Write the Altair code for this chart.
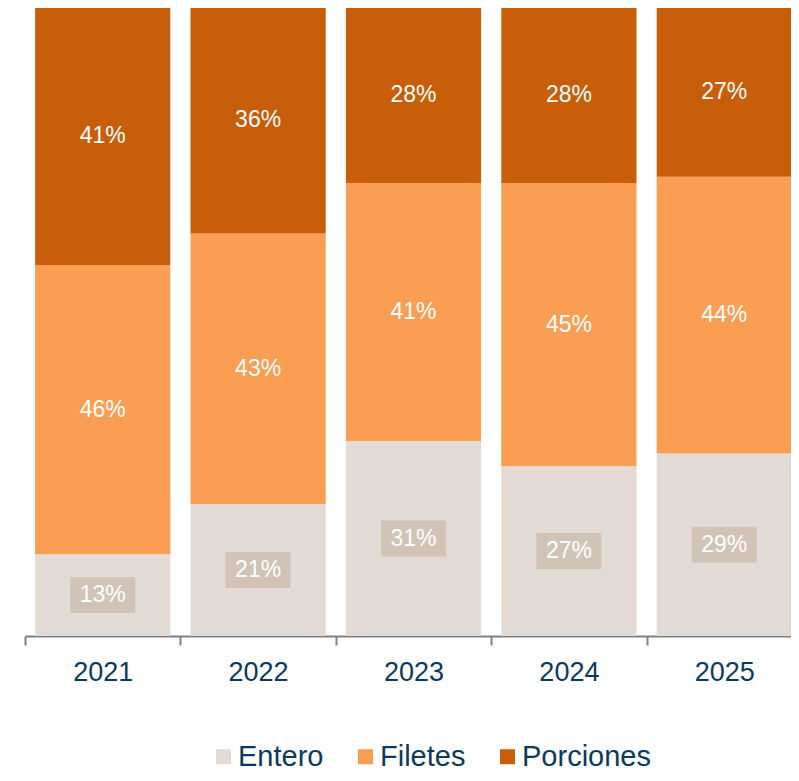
import altair as alt
import pandas as pd

years = ["2021", "2022", "2023", "2024", "2025"]
categories = ["Entero", "Filetes", "Porciones"]
entero = [13, 21, 31, 27, 29]
filetes = [46, 43, 41, 45, 44]
porciones = [41, 36, 28, 28, 27]
colors = ["#e2dad4", "#f99e52", "#c85e0a"]

rows = []
for i, yr in enumerate(years):
    base = 0
    for order, (cat, vals) in enumerate(zip(categories, [entero, filetes, porciones])):
        v = vals[i]
        rows.append({"year": yr, "cat": cat, "value": v, "order": order,
                     "y0": base, "y1": base + v, "mid": base + v / 2,
                     "label": f"{v}%"})
        base += v
df = pd.DataFrame(rows)

FONT = "Liberation Sans"
NAVY = "#0d3a5c"

x_enc = alt.X(
    "year:N", title=None,
    scale=alt.Scale(paddingInner=0, paddingOuter=0),
    axis=alt.Axis(labelAngle=0, tickBand="extent", labelFontSize=27, labelFont=FONT,
                  labelColor=NAVY, domainColor="#808080", domainWidth=2,
                  tickColor="#808080", tickWidth=2, tickSize=9, labelPadding=14),
)
y_scale = alt.Scale(domain=[0, 100], nice=False)

base = alt.Chart(df)

bars = base.mark_bar(width=alt.RelativeBandSize(0.87)).encode(
    x=x_enc,
    y=alt.Y("y0:Q", scale=y_scale, axis=None),
    y2="y1:Q",
    color=alt.Color(
        "cat:N",
        scale=alt.Scale(domain=categories, range=colors),
        legend=alt.Legend(title=None, orient="none", legendX=184, legendY=735,
                          direction="horizontal", labelFontSize=29, labelFont=FONT,
                          labelColor=NAVY, symbolType="square", symbolSize=225,
                          symbolStrokeWidth=0, symbolOpacity=1, labelOffset=0,
                          columnPadding=27),
    ),
    order=alt.Order("order:Q"),
)

box_path = "M-1,-0.554L1,-0.554L1,0.554L-1,0.554Z"
boxes = base.transform_filter(alt.datum.cat == "Entero").mark_point(
    shape=box_path, filled=True, size=4225, color="#d1c4b6", opacity=1, strokeWidth=0
).encode(x=alt.X("year:N"), y=alt.Y("mid:Q", scale=y_scale))

texts = base.mark_text(color="white", fontSize=23, font=FONT, baseline="middle").encode(
    x=alt.X("year:N"),
    y=alt.Y("mid:Q", scale=y_scale),
    text="label:N",
)

chart = alt.layer(bars, boxes, texts).properties(
    width=777, height=629,
    autosize=alt.AutoSizeParams(type="none"),
    padding={"left": 17, "top": -1, "right": -11, "bottom": 137},
).configure_view(stroke=None)

chart.save("out.html", embed_options={"renderer": "svg", "actions": False})
